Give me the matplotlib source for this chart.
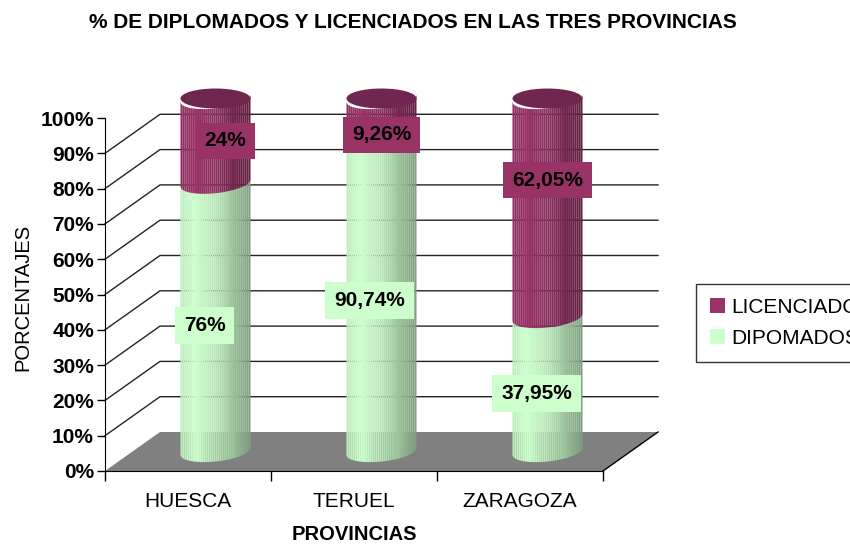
import numpy as np
import matplotlib
matplotlib.use('Agg')
import matplotlib.pyplot as plt
from matplotlib.patches import Patch, Polygon, Ellipse

provincias = ['HUESCA', 'TERUEL', 'ZARAGOZA']
diplomados = [76, 90.74, 37.95]
licenciados = [24, 9.26, 62.05]
diplomados_txt = ['76%', '90,74%', '37,95%']
licenciados_txt = ['24%', '9,26%', '62,05%']
yticks = list(range(0, 101, 10))

verde = '#ccffcc'
morado = '#993366'
W, H = 850, 546
PX_X = 498 / 3
PX_Y = 353 / 100
DX = 55 / PX_X
DY = 39 / PX_Y
R = 35 / PX_X
EH = 10 / PX_Y
TILT = 3.5 / PX_Y

plt.rcParams['font.family'] = ['Liberation Sans Narrow', 'Liberation Sans']


def shade(color, u):
    c = np.array(matplotlib.colors.to_rgb(color))
    f = np.interp(u, [-1, -0.6, 0.0, 1], [0.92, 1.0, 0.9, 0.62])
    return tuple(c * f)


def arc(cx, y, us):
    # lower edge of the tilted ellipse
    return y - EH * np.sqrt(np.clip(1 - us ** 2, 0, 1)) + TILT * us


def segmento(ax, cx, y0, y1, color, z):
    edges = np.linspace(-1, 1, 37)
    for a, b in zip(edges[:-1], edges[1:]):
        us = np.linspace(a, b, 4)
        xs = cx + R * us
        bot = arc(cx, y0, us)
        top = arc(cx, y1, us)
        pts = list(zip(xs, bot)) + list(zip(xs[::-1], top[::-1]))
        ax.add_patch(Polygon(pts, closed=True, fc=shade(color, (a + b) / 2),
                             ec='none', zorder=z, clip_on=False))


def etiqueta(ax, x, y, txt, color):
    ax.text(x, y, txt, ha='center', va='center', fontsize=15, fontweight='bold',
            color='black', zorder=10,
            bbox=dict(boxstyle='square,pad=0.42', fc=color, ec='none'))


def main():
    fig = plt.figure(figsize=(W / 100, H / 100), dpi=100, facecolor='white')
    ax = fig.add_axes([105 / W, 1 - 471 / H, 498 / W, 353 / H])
    ax.set_xlim(0, 3)
    ax.set_ylim(0, 100)
    ax.patch.set_visible(False)
    for s in ['top', 'right']:
        ax.spines[s].set_visible(False)

    # floor and walls of the 3D box
    ax.add_patch(Polygon([(0, 0), (3, 0), (3 + DX, DY), (DX, DY)], closed=True,
                         fc='#808080', ec='none', zorder=1, clip_on=False))
    ax.plot([3, 3 + DX], [0, DY], color='black', lw=1, zorder=1, clip_on=False)
    for t in yticks[1:-1]:
        ax.plot([0, DX, 3 + DX], [t, t + DY, t + DY], color='#222222', lw=1,
                zorder=1, clip_on=False)

    # cylinders
    for i in range(len(provincias)):
        cx = i + 0.5 + DX / 2
        base = DY / 2
        d = diplomados[i]
        segmento(ax, cx, base, base + d, verde, 3)
        segmento(ax, cx, base + d, base + 100, morado, 4)
        ax.add_patch(Ellipse((cx, base + 100), 2 * R * 1.0, 2 * EH,
                             fc='#6f274f', ec='none', zorder=5, clip_on=False))

    # data labels, nudged off the middle of the segment as in the original
    dx_lic = [10, 0, 0]
    dy_lic = [0, -20, 28]
    dx_dip = [-11, -12, -11]
    dy_dip = [-8, -9, -9]
    for i in range(len(provincias)):
        cx = i + 0.5 + DX / 2
        base = DY / 2
        ymid = base + diplomados[i] / 2
        etiqueta(ax, cx + dx_dip[i] / PX_X, ymid + dy_dip[i] / PX_Y, diplomados_txt[i], verde)
        ymid = base + diplomados[i] + licenciados[i] / 2
        etiqueta(ax, cx + dx_lic[i] / PX_X, ymid + dy_lic[i] / PX_Y, licenciados_txt[i], morado)

    ax.set_yticks(yticks)
    ax.set_yticklabels(['%d%%' % t for t in yticks], fontsize=15, fontweight='bold')
    ax.set_xticks([0, 1, 2, 3])
    ax.set_xticklabels([])
    ax.set_xticks([0.5, 1.5, 2.5], minor=True)
    ax.set_xticklabels(provincias, minor=True, fontsize=15)
    ax.tick_params(axis='x', which='minor', length=0, pad=15)
    ax.tick_params(axis='x', which='major', length=7, width=1)
    ax.tick_params(axis='y', length=6, width=1, pad=2)

    fig.text(413 / W, 1 - 23 / H, '% DE DIPLOMADOS Y LICENCIADOS EN LAS TRES PROVINCIAS',
             ha='center', va='center', fontsize=15, fontweight='bold')
    fig.text(354 / W, 1 - 535 / H, 'PROVINCIAS', ha='center', va='center',
             fontsize=14.5, fontweight='bold', family='Liberation Sans')
    fig.text(23 / W, 1 - 297 / H, 'PORCENTAJES', ha='center', va='center',
             rotation=90, fontsize=14.5)

    handles = [Patch(fc=morado, ec='none'), Patch(fc=verde, ec='none')]
    leg = fig.legend(handles, ['LICENCIADOS', 'DIPOMADOS'], loc='upper left',
                     bbox_to_anchor=(696 / W, 1 - 284 / H), borderaxespad=0,
                     fontsize=15, fancybox=False, edgecolor='#333333', framealpha=1,
                     handlelength=0.75, handleheight=0.75, handletextpad=0.3,
                     labelspacing=0.6, borderpad=0.65)
    leg.get_frame().set_linewidth(1)

    fig.savefig('out.png', dpi=100)


if __name__ == "__main__":
    main()
